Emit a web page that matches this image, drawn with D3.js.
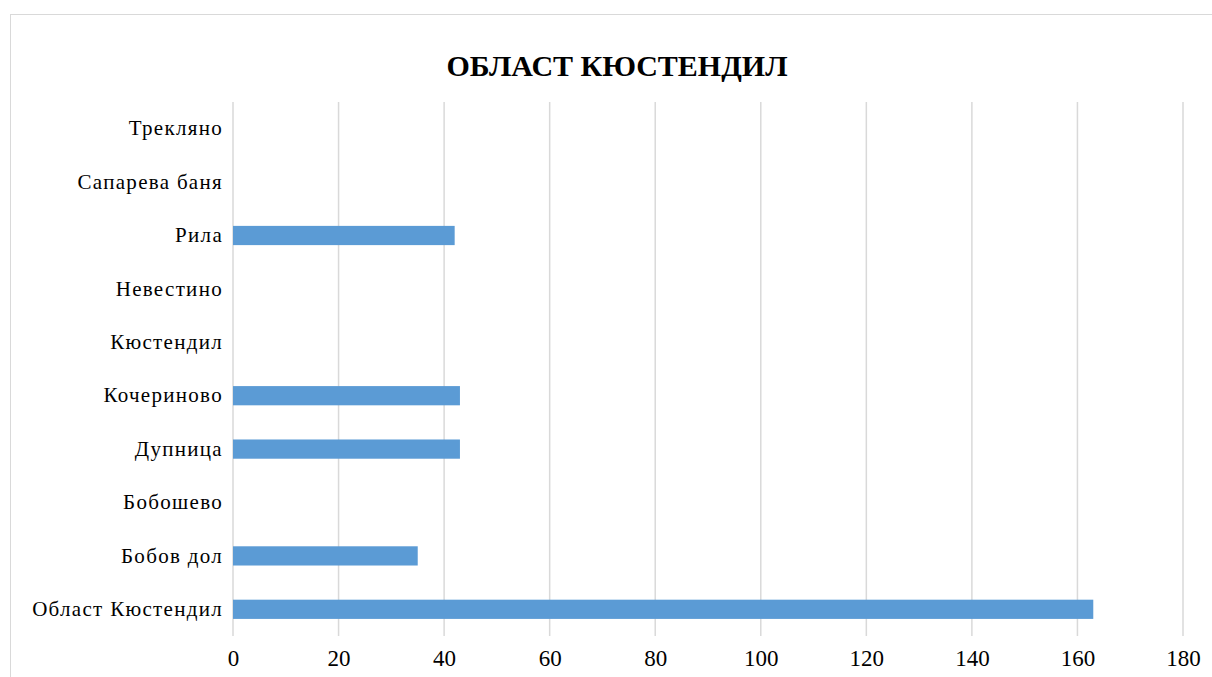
<!DOCTYPE html>
<html lang="bg">
<head>
  <meta charset="UTF-8">
  <title>Област Кюстендил</title>
  <script src="https://d3js.org/d3.v7.min.js"></script>
  <style>
    body { margin: 0; background: #fff; }
    text { font-family: "Liberation Serif", "Times New Roman", serif; fill: #000; }
  </style>
</head>
<body>
<div id="chart"></div>
<script>
  // data, bottom to top as in the picture
  var categories = ["Област Кюстендил", "Бобов дол", "Бобошево", "Дупница", "Кочериново",
    "Кюстендил", "Невестино", "Рила", "Сапарева баня", "Трекляно"];
  var values = [163, 35, 0, 43, 43, 0, 0, 42, 0, 0];
  var xTicks = [0, 20, 40, 60, 80, 100, 120, 140, 160, 180];
  var title = "ОБЛАСТ КЮСТЕНДИЛ";

  var W = 1212, H = 677;
  var margin = { top: 102, right: 29, bottom: 41, left: 233 };

  var svg = d3.select("#chart").append("svg")
    .attr("width", W)
    .attr("height", H);

  // chart border (runs off the right and bottom edge)
  svg.append("rect")
    .attr("x", 10.5).attr("y", 14.5)
    .attr("width", W).attr("height", H)
    .attr("fill", "none")
    .attr("stroke", "#d9d9d9")
    .attr("stroke-width", 1);

  svg.append("text")
    .attr("x", 617).attr("y", 76)
    .attr("text-anchor", "middle")
    .style("font-size", "30px")
    .style("font-weight", "bold")
    .text(title);

  var x = d3.scaleLinear()
    .domain([0, 180])
    .range([margin.left, W - margin.right]);

  var y = d3.scaleBand()
    .domain(categories)
    .range([H - margin.bottom, margin.top])
    .paddingInner(0.64)
    .paddingOuter(0.32);

  // gridlines
  svg.append("g")
    .selectAll("line")
    .data(xTicks)
    .enter()
    .append("line")
    .attr("x1", function(d) { return x(d); })
    .attr("x2", function(d) { return x(d); })
    .attr("y1", margin.top)
    .attr("y2", H - margin.bottom)
    .attr("stroke", "#d9d9d9")
    .attr("stroke-width", 1.5);

  // bars
  svg.append("g")
    .selectAll("rect")
    .data(values)
    .enter()
    .append("rect")
    .attr("x", x(0))
    .attr("y", function(d, i) { return y(categories[i]); })
    .attr("width", function(d) { return x(d) - x(0); })
    .attr("height", y.bandwidth())
    .attr("fill", "#5b9bd5");

  // x axis labels
  var xAxis = svg.append("g")
    .attr("transform", "translate(0," + (H - margin.bottom) + ")")
    .call(d3.axisBottom(x).tickValues(xTicks).tickSize(0).tickPadding(14));
  xAxis.select(".domain").remove();
  xAxis.selectAll("text")
    .style("font-size", "23px")
    .style("font-family", "Liberation Serif, serif")
    .attr("fill", "#000");

  // y axis labels
  var yAxis = svg.append("g")
    .attr("transform", "translate(" + margin.left + ",0)")
    .call(d3.axisLeft(y).tickSize(0).tickPadding(10));
  yAxis.select(".domain").remove();
  yAxis.selectAll("text")
    .style("font-size", "21px")
    .style("font-family", "Liberation Serif, serif")
    .style("letter-spacing", "1.3px")
    .attr("fill", "#000");
</script>
</body>
</html>
